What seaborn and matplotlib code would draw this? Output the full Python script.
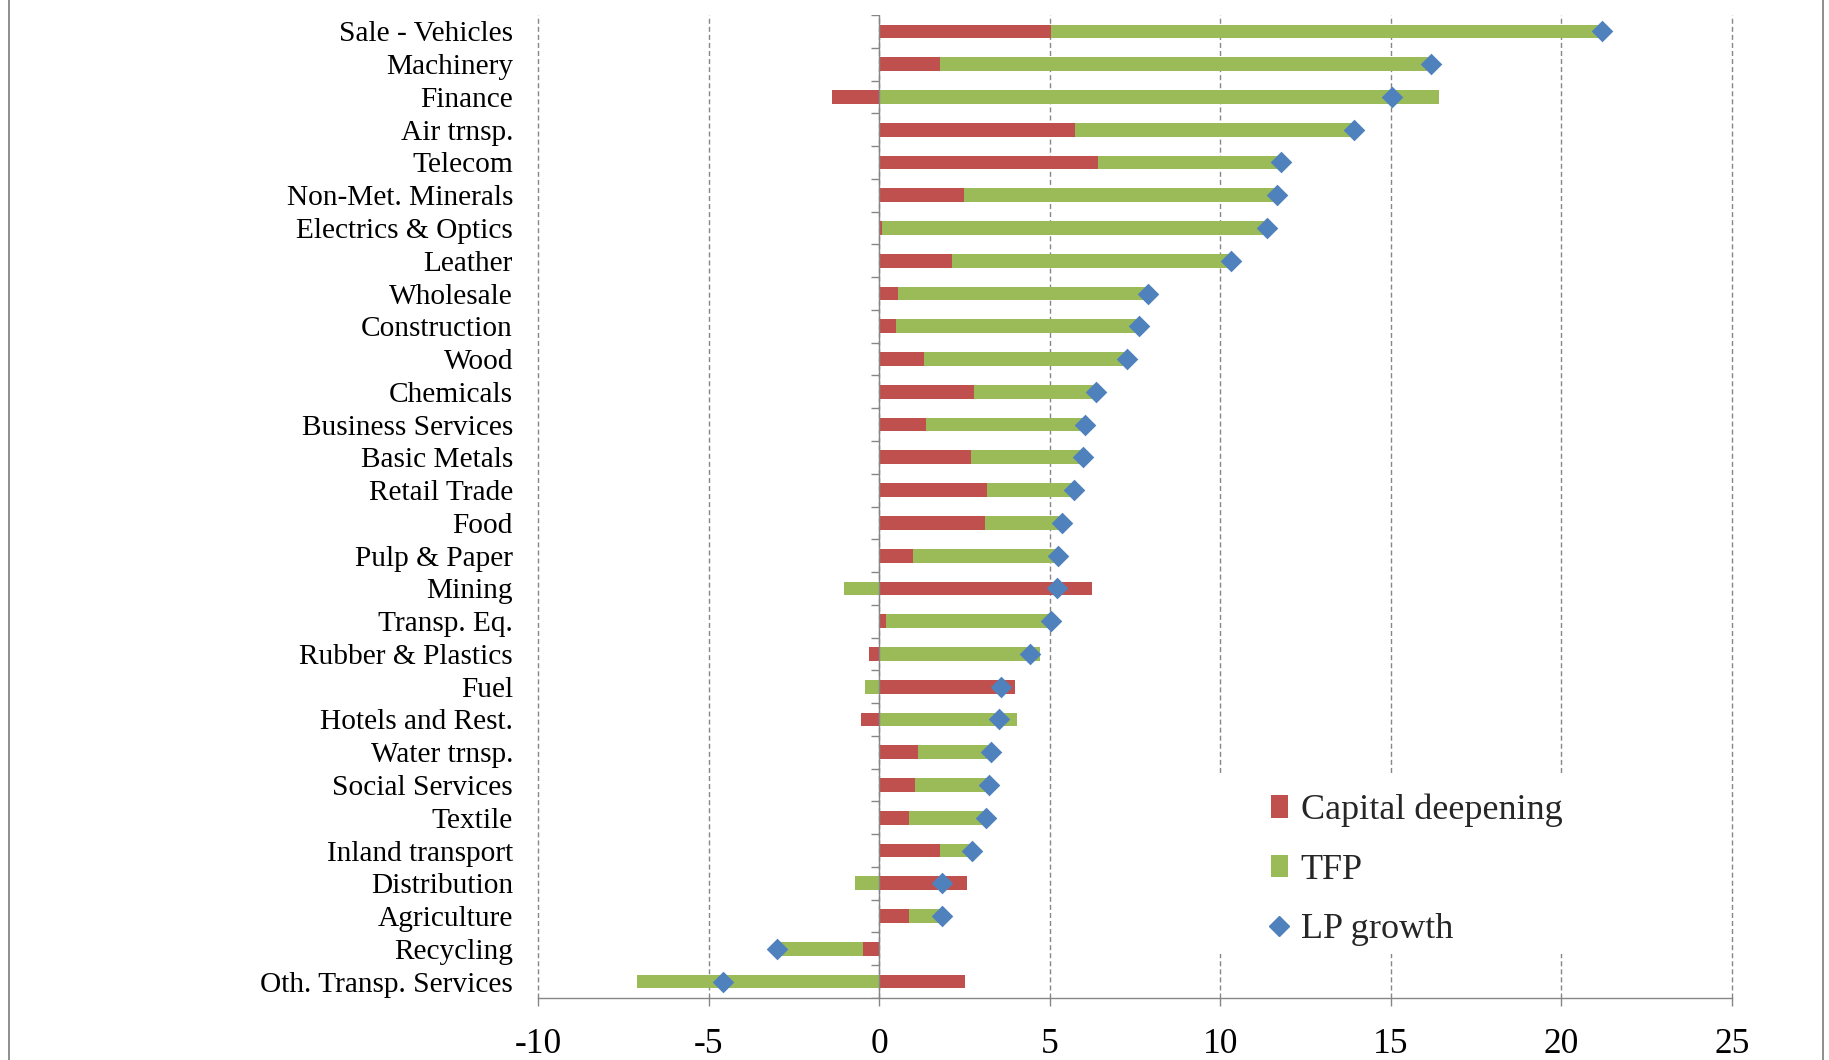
import matplotlib
matplotlib.use("Agg")
import matplotlib.pyplot as plt
from matplotlib.patches import Rectangle, Patch
from matplotlib.lines import Line2D
import numpy as np
import pandas as pd
import seaborn as sns

# Sector decomposition of labour productivity growth
sectors = [
    "Sale - Vehicles", "Machinery", "Finance", "Air trnsp.", "Telecom",
    "Non-Met. Minerals", "Electrics & Optics", "Leather", "Wholesale",
    "Construction", "Wood", "Chemicals", "Business Services", "Basic Metals",
    "Retail Trade", "Food", "Pulp & Paper", "Mining", "Transp. Eq.",
    "Rubber & Plastics", "Fuel", "Hotels and Rest.", "Water trnsp.",
    "Social Services", "Textile", "Inland transport", "Distribution",
    "Agriculture", "Recycling", "Oth. Transp. Services",
]
capital_deepening = [
    5.05, 1.77, -1.38, 5.73, 6.42, 2.50, 0.08, 2.15, 0.54, 0.50,
    1.31, 2.78, 1.38, 2.70, 3.15, 3.09, 0.99, 6.23, 0.19, -0.29,
    3.99, -0.53, 1.15, 1.05, 0.88, 1.79, 2.57, 0.88, -0.47, 2.53,
]
tfp = [
    16.15, 14.42, 16.42, 8.19, 5.37, 9.15, 11.29, 8.16, 7.34, 7.12,
    5.96, 3.58, 4.65, 3.27, 2.57, 2.26, 4.24, -1.03, 4.86, 4.71,
    -0.41, 4.05, 2.12, 2.18, 2.25, 0.93, -0.72, 0.95, -2.53, -7.10,
]
lp_growth = [
    21.20, 16.19, 15.04, 13.92, 11.79, 11.65, 11.37, 10.31, 7.88, 7.62,
    7.27, 6.36, 6.03, 5.97, 5.72, 5.35, 5.23, 5.20, 5.05, 4.42,
    3.58, 3.50, 3.27, 3.23, 3.13, 2.72, 1.85, 1.83, -3.00, -4.57,
]
x_ticks = [-10, -5, 0, 5, 10, 15, 20, 25]

RED = "#C0504D"
GREEN = "#9BBB59"
BLUE = "#4F81BD"
GRAY = "#868686"

df = pd.DataFrame({
    "sector": sectors,
    "capital": capital_deepening,
    "tfp": tfp,
    "lp": lp_growth,
})
# Stacked bars: same-sign components stack, opposite signs start at zero
same_sign = np.sign(df["capital"]) == np.sign(df["tfp"])
df["tfp_left"] = np.where(same_sign, df["capital"], 0.0)

sns.set_theme(style="white")
plt.rcParams["font.family"] = ["Liberation Serif", "DejaVu Serif"]
plt.rcParams["axes.unicode_minus"] = False

fig = plt.figure(figsize=(18.29, 10.60), dpi=100)
ax = fig.add_axes([538 / 1829, 62 / 1060, 1194 / 1829, 983 / 1060])

bar_w = 0.42
sns.barplot(data=df, x="capital", y="sector", orient="h", color=RED,
            saturation=1, width=bar_w, errorbar=None, linewidth=0, ax=ax)
sns.barplot(data=df, x="tfp", y="sector", orient="h", color=GREEN,
            saturation=1, width=bar_w, errorbar=None, linewidth=0,
            left=df["tfp_left"].to_numpy(), ax=ax)
sns.stripplot(data=df, x="lp", y="sector", orient="h", jitter=False,
              marker="D", size=11, color=BLUE, linewidth=0, zorder=4, ax=ax)

n = len(sectors)
ax.set_xlim(-10, 25)
ax.set_ylim(n - 0.5, -0.5)
ax.set_xticks(x_ticks)
ax.set_xlabel("")
ax.set_ylabel("")

# Dashed vertical gridlines
ax.set_axisbelow(True)
ax.xaxis.grid(True, color=GRAY, linewidth=1.0, linestyle=(0, (3.6, 2.2)))
ax.yaxis.grid(False)
for gl in ax.get_xgridlines():
    gl.set_clip_on(False)

for side in ("top", "right", "left"):
    ax.spines[side].set_visible(False)
ax.spines["bottom"].set_color(GRAY)
ax.spines["bottom"].set_linewidth(1.0)

ax.tick_params(axis="x", direction="out", length=5.8, width=1.0, color=GRAY,
               pad=16, labelsize=25.5, labelcolor="black", bottom=True)
ax.tick_params(axis="y", length=0, pad=18, labelsize=21.2, labelcolor="black")

# Category axis drawn at zero with tick marks between categories
ax.axvline(0, color=GRAY, linewidth=1.0, zorder=2)
bounds = np.arange(n + 1) - 0.5
ax.hlines(bounds, -0.24, 0, color=GRAY, linewidth=1.0, zorder=2)

# Legend on a white panel
ax.add_patch(Rectangle((0.554, 0.0448), 0.37, 0.181, transform=ax.transAxes,
                       facecolor="white", edgecolor="none", zorder=2.5))
handles = [
    Patch(facecolor=RED, edgecolor="none", label="Capital deepening"),
    Patch(facecolor=GREEN, edgecolor="none", label="TFP"),
    Line2D([], [], marker="D", color=BLUE, linestyle="none",
           markersize=9.7, label="LP growth"),
]
leg = ax.legend(handles=handles, loc="center left",
                bbox_to_anchor=(0.6139, 0.1302), frameon=False,
                fontsize=26, handlelength=0.47, handleheight=0.6,
                handletextpad=0.35, labelspacing=0.74, borderpad=0,
                borderaxespad=0)
leg.set_zorder(5)

# Chart area border
fig.add_artist(Rectangle((9 / 1829, -0.05), (1823 - 9) / 1829, 1.05 + (1 - 6 / 1060),
                         transform=fig.transFigure, fill=False,
                         edgecolor=GRAY, linewidth=1.3))

fig.savefig("out.png", dpi=100)
